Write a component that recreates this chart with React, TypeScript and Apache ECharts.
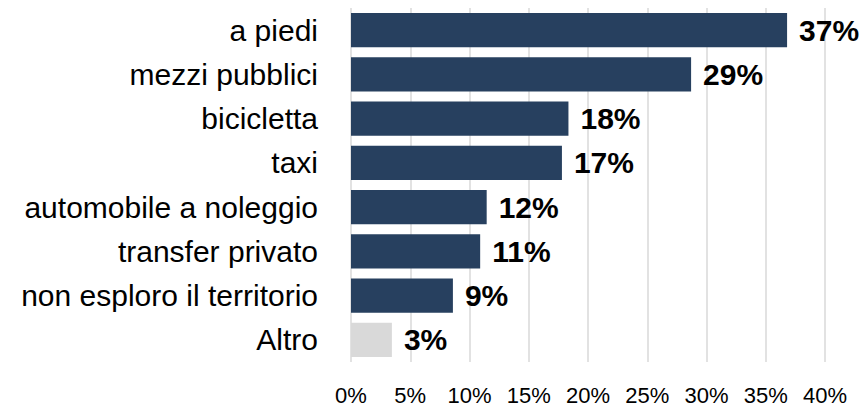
import React, { useEffect, useRef } from "react";
import * as echarts from "echarts";

const categories = [
  "a piedi",
  "mezzi pubblici",
  "bicicletta",
  "taxi",
  "automobile a noleggio",
  "transfer privato",
  "non esploro il territorio",
  "Altro",
];
const shares = [36.8, 28.7, 18.35, 17.8, 11.45, 10.9, 8.6, 3.45];
const shareLabels = ["37%", "29%", "18%", "17%", "12%", "11%", "9%", "3%"];
const barColors = ["#27405F", "#27405F", "#27405F", "#27405F", "#27405F", "#27405F", "#27405F", "#D9D9D9"];
const xTicks = [0, 5, 10, 15, 20, 25, 30, 35, 40];

export default function App() {
  const ref = useRef<HTMLDivElement>(null);
  useEffect(() => {
    if (!ref.current) return;
    const chart = echarts.init(ref.current, undefined, { renderer: "svg" });
    chart.setOption({
      animation: false,
      backgroundColor: "#ffffff",
      grid: { left: 351, right: 38, top: 8, bottom: 46, containLabel: false },
      xAxis: {
        type: "value",
        min: xTicks[0],
        max: xTicks[xTicks.length - 1],
        interval: 5,
        axisLine: { show: false },
        axisTick: { show: false },
        splitLine: { show: true, lineStyle: { color: "#D9D9D9", width: 1.5 } },
        axisLabel: {
          formatter: (v: number) => `${v}%`,
          fontFamily: "Liberation Sans, Arial, sans-serif",
          fontSize: 22,
          color: "#000000",
          margin: 22,
        },
      },
      yAxis: {
        type: "category",
        inverse: true,
        data: categories,
        axisLine: { show: false },
        axisTick: { show: false },
        splitLine: { show: false },
        axisLabel: {
          fontFamily: "Liberation Sans, Arial, sans-serif",
          fontSize: 30,
          color: "#000000",
          margin: 33,
        },
      },
      series: [
        {
          type: "bar",
          barCategoryGap: "23%",
          data: shares.map((v, i) => ({
            value: v,
            itemStyle: { color: barColors[i] },
            label: { formatter: shareLabels[i] },
          })),
          label: {
            show: true,
            position: "right",
            distance: 12,
            fontFamily: "Liberation Sans, Arial, sans-serif",
            fontWeight: "bold",
            fontSize: 30,
            color: "#000000",
          },
        },
      ],
    });
    return () => chart.dispose();
  }, []);
  return <div ref={ref} style={{ width: 863, height: 408, position: "absolute", left: 0, top: 0 }} />;
}
